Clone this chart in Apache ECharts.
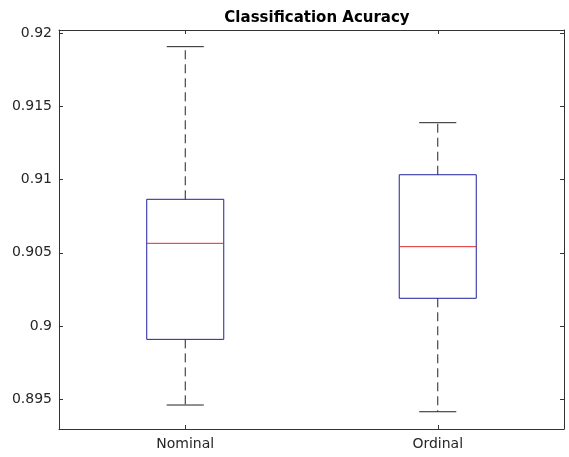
<!DOCTYPE html>
<html>
<head>
<meta charset="utf-8">
<script src="https://cdn.jsdelivr.net/npm/echarts@6/dist/echarts.min.js"></script>
<style>
  html, body { margin: 0; padding: 0; background: #fff; }
  #chart { width: 569px; height: 457px; }
</style>
</head>
<body>
<div id="chart"></div>
<script>
// box plot stats
const categories = ['Nominal', 'Ordinal'];
const lowerWhisker = [0.89459, 0.89413];
const q1 = [0.89908, 0.90189];
const median = [0.90565, 0.90542];
const q3 = [0.90866, 0.91034];
const upperWhisker = [0.91910, 0.91390];

const yMin = 0.89295;
const yMax = 0.92024;

const axisColor = '#333333';
const font = 'DejaVu Sans';

const chart = echarts.init(document.getElementById('chart'));

const boxData = categories.map((c, i) => [i, lowerWhisker[i], q1[i], median[i], q3[i], upperWhisker[i]]);

function renderBox(params, api) {
  const i = api.value(0);
  const band = api.size([1, 0])[0];
  const boxW = band * 0.305;
  const capW = band * 0.147;
  const pLow = api.coord([i, api.value(1)]);
  const pQ1 = api.coord([i, api.value(2)]);
  const pMed = api.coord([i, api.value(3)]);
  const pQ3 = api.coord([i, api.value(4)]);
  const pHigh = api.coord([i, api.value(5)]);
  const x = pMed[0];
  const dash = { stroke: '#222', lineWidth: 1, lineDash: [9, 5] };
  const solid = { stroke: '#222', lineWidth: 1 };
  return {
    type: 'group',
    children: [
      // whiskers (dashed)
      { type: 'line', shape: { x1: x, y1: pQ3[1], x2: x, y2: pHigh[1] }, style: dash },
      { type: 'line', shape: { x1: x, y1: pQ1[1], x2: x, y2: pLow[1] }, style: dash },
      // caps
      { type: 'line', shape: { x1: x - capW / 2, y1: pHigh[1], x2: x + capW / 2, y2: pHigh[1] }, style: solid },
      { type: 'line', shape: { x1: x - capW / 2, y1: pLow[1], x2: x + capW / 2, y2: pLow[1] }, style: solid },
      // box
      {
        type: 'rect',
        shape: { x: x - boxW / 2, y: pQ3[1], width: boxW, height: pQ1[1] - pQ3[1] },
        style: { fill: 'none', stroke: '#1f1fa0', lineWidth: 1 },
      },
      // median
      { type: 'line', shape: { x1: x - boxW / 2, y1: pMed[1], x2: x + boxW / 2, y2: pMed[1] }, style: { stroke: '#e02a2a', lineWidth: 1 } },
    ],
  };
}

const option = {
  backgroundColor: '#fff',
  animation: false,
  title: {
    text: 'Classification Acuracy',
    left: 312,
    textAlign: 'center',
    top: 6,
    textStyle: { fontFamily: font, fontWeight: 'bold', fontSize: 15, color: '#000' },
  },
  grid: { left: 59, right: 5, top: 30, bottom: 28, containLabel: false },
  xAxis: [
    {
      type: 'category',
      data: categories,
      position: 'bottom',
      boundaryGap: true,
      axisLine: { show: true, lineStyle: { color: axisColor, width: 1 } },
      axisTick: { show: true, inside: true, alignWithLabel: true, length: 4, lineStyle: { color: axisColor } },
      axisLabel: { color: '#262626', fontFamily: font, fontSize: 14, margin: 8 },
      splitLine: { show: false },
    },
    {
      type: 'category',
      data: categories,
      position: 'top',
      boundaryGap: true,
      axisLine: { show: true, lineStyle: { color: axisColor, width: 1 } },
      axisTick: { show: true, inside: true, alignWithLabel: true, length: 4, lineStyle: { color: axisColor } },
      axisLabel: { show: false },
      splitLine: { show: false },
    },
  ],
  yAxis: [
    {
      type: 'value',
      min: yMin,
      max: yMax,
      splitNumber: 5,
      minInterval: 0.005,
      maxInterval: 0.005,
      position: 'left',
      axisLine: { show: true, lineStyle: { color: axisColor, width: 1 } },
      axisTick: { show: true, inside: true, length: 4, lineStyle: { color: axisColor } },
      axisLabel: {
        color: '#262626',
        fontFamily: font,
        fontSize: 14,
        margin: 7,
        showMinLabel: false,
        showMaxLabel: false,
        formatter: v => String(+v.toFixed(4)),
      },
      splitLine: { show: false },
    },
    {
      type: 'value',
      min: yMin,
      max: yMax,
      splitNumber: 5,
      minInterval: 0.005,
      maxInterval: 0.005,
      position: 'right',
      axisLine: { show: true, lineStyle: { color: axisColor, width: 1 } },
      axisTick: { show: true, inside: true, length: 4, lineStyle: { color: axisColor } },
      axisLabel: { show: false },
      splitLine: { show: false },
    },
  ],
  series: [
    {
      type: 'custom',
      xAxisIndex: 0,
      yAxisIndex: 0,
      renderItem: renderBox,
      encode: { x: 0, y: [1, 2, 3, 4, 5] },
      data: boxData,
      clip: false,
    },
  ],
};

chart.setOption(option);
</script>
</body>
</html>
